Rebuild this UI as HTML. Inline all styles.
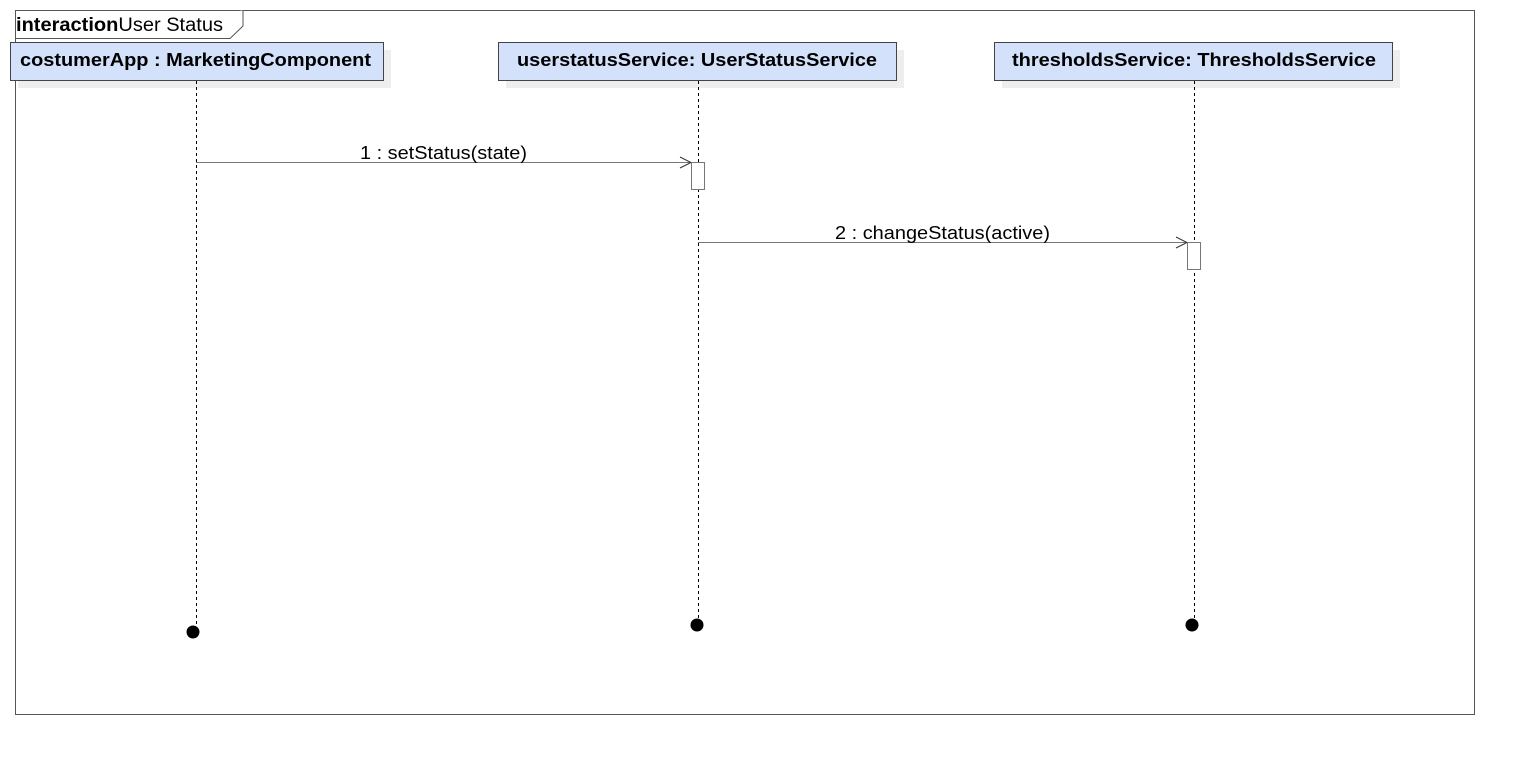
<!DOCTYPE html>
<html><head><style>body{margin:0;background:#fff;}</style></head><body>
<svg width="1514" height="754" xmlns="http://www.w3.org/2000/svg" font-family="Liberation Sans, sans-serif">
<rect x="15.5" y="10.5" width="1459" height="704" fill="none" stroke="#555" stroke-width="1"/>
<path d="M15.5 38.5 H230 L243 26 V10.5" fill="#fff" stroke="#555" stroke-width="1"/>
<text x="16" y="31" font-size="19" textLength="207" lengthAdjust="spacingAndGlyphs"><tspan font-weight="bold">interaction</tspan>User Status</text>

<rect x="18" y="50" width="373" height="38" fill="#eeeeee"/>
<rect x="10.5" y="42.5" width="373" height="38" fill="#d4e1fb" stroke="#444"/>
<text x="20" y="66" font-size="18" font-weight="bold" textLength="351" lengthAdjust="spacingAndGlyphs">costumerApp : MarketingComponent</text>

<rect x="506" y="50" width="398" height="38" fill="#eeeeee"/>
<rect x="498.5" y="42.5" width="398" height="38" fill="#d4e1fb" stroke="#444"/>
<text x="517" y="66" font-size="18" font-weight="bold" textLength="360" lengthAdjust="spacingAndGlyphs">userstatusService: UserStatusService</text>

<rect x="1002" y="50" width="398" height="38" fill="#eeeeee"/>
<rect x="994.5" y="42.5" width="398" height="38" fill="#d4e1fb" stroke="#444"/>
<text x="1012" y="66" font-size="18" font-weight="bold" textLength="364" lengthAdjust="spacingAndGlyphs">thresholdsService: ThresholdsService</text>

<g stroke="#000" stroke-dasharray="3,3" stroke-width="1">
<line x1="196.5" y1="81" x2="196.5" y2="630"/>
<line x1="698.5" y1="81" x2="698.5" y2="622"/>
<line x1="1194.5" y1="81" x2="1194.5" y2="622"/>
</g>
<line x1="196" y1="162.5" x2="691" y2="162.5" stroke="#777"/>
<path d="M680 157 L691 162.5 L680 168" fill="none" stroke="#333"/>
<text x="360" y="159" font-size="18" textLength="167" lengthAdjust="spacingAndGlyphs">1 : setStatus(state)</text>
<rect x="691.5" y="162.5" width="13" height="27" fill="#fff" stroke="#777"/>

<line x1="698" y1="242.5" x2="1187" y2="242.5" stroke="#777"/>
<path d="M1176 237 L1187 242.5 L1176 248" fill="none" stroke="#333"/>
<text x="835" y="239" font-size="18" textLength="215" lengthAdjust="spacingAndGlyphs">2 : changeStatus(active)</text>
<rect x="1187.5" y="242.5" width="13" height="27" fill="#fff" stroke="#777"/>

<circle cx="193" cy="632" r="6.5" fill="#000"/>
<circle cx="697" cy="625" r="6.5" fill="#000"/>
<circle cx="1192" cy="625" r="6.5" fill="#000"/>
</svg>
</body></html>
